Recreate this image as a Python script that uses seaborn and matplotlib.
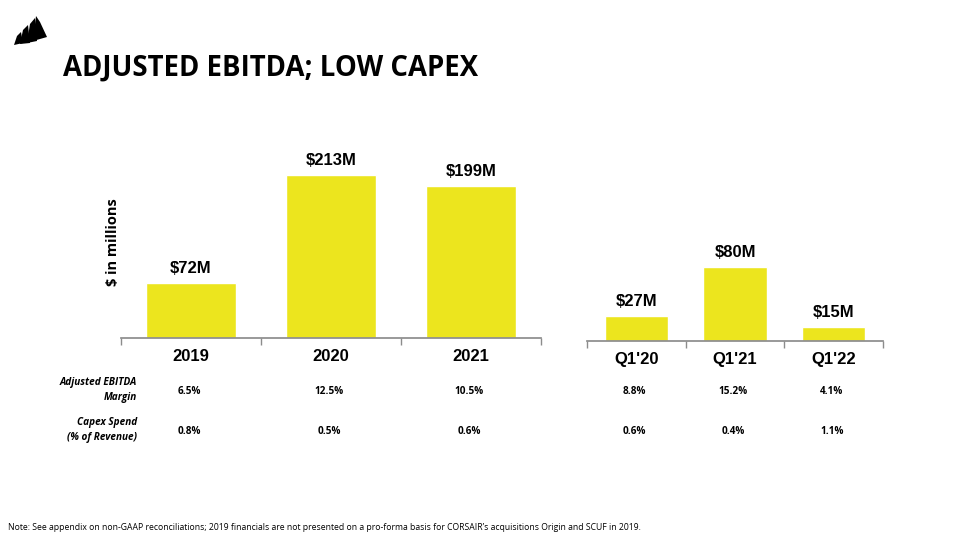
import matplotlib
matplotlib.use('Agg')
import matplotlib.pyplot as plt
import seaborn as sns
from matplotlib.patches import Polygon

# data
years = ['2019', '2020', '2021']
year_ebitda = [72, 213, 199]
quarters = ["Q1'20", "Q1'21", "Q1'22"]
quarter_ebitda = [27, 80, 15]
year_margin = ['6.5%', '12.5%', '10.5%']
quarter_margin = ['8.8%', '15.2%', '4.1%']
year_capex = ['0.8%', '0.5%', '0.6%']
quarter_capex = ['0.6%', '0.4%', '1.1%']

sns.set_theme(style="white")
plt.rcParams['font.family'] = ['Liberation Sans', 'DejaVu Sans']
plt.rcParams['text.color'] = 'black'
plt.rcParams['xtick.color'] = 'black'
plt.rcParams['axes.labelcolor'] = 'black'

yellow = '#ECE51E'
fig = plt.figure(figsize=(9.6, 5.4), dpi=100)

ax1 = fig.add_axes([0.126, 0.374, 0.4375, 0.354])
ax2 = fig.add_axes([0.6115, 0.3685, 0.3083, 0.358])


def draw(ax, cats, vals, ymax):
    sns.barplot(x=cats, y=vals, color=yellow, width=0.64, saturation=1, ax=ax)
    ax.set_ylim(0, ymax)
    ax.set_xlim(-0.5, len(cats) - 0.5)
    for i, v in enumerate(vals):
        ax.annotate(f'${v}M', (i, v), xytext=(0, 5), textcoords='offset points',
                    ha='center', va='bottom', fontsize=12, fontweight='bold')
    for s in ['top', 'right', 'left']:
        ax.spines[s].set_visible(False)
    ax.spines['bottom'].set_color('#8c8c8c')
    ax.set_yticks([])
    ax.set_xticks(range(len(cats)))
    ax.set_xticklabels(cats, fontsize=12, fontweight='bold')
    ax.tick_params(axis='x', which='major', length=0, pad=8)
    ax.set_xticks([i - 0.5 for i in range(len(cats) + 1)], minor=True)
    ax.tick_params(axis='x', which='minor', length=5, color='#8c8c8c', bottom=True)
    ax.set_xlabel('')


draw(ax1, years, year_ebitda, 250)
draw(ax2, quarters, quarter_ebitda, 210)

ax1.set_ylabel('$ in millions', fontsize=10.5, fontweight='bold', family='Open Sans', labelpad=1)

# table rows below the chart
lab_font = dict(family='Open Sans', fontsize=7.2, fontweight='bold')
fig.text(137 / 960, 1 - 390 / 540, 'Adjusted EBITDA\nMargin', ha='right', va='center',
         style='italic', linespacing=1.45, **lab_font)
fig.text(137 / 960, 1 - 430 / 540, 'Capex Spend\n(% of Revenue)', ha='right', va='center',
         style='italic', linespacing=1.45, **lab_font)

for ax, margins, capex in [(ax1, year_margin, year_capex), (ax2, quarter_margin, quarter_capex)]:
    for i in range(len(margins)):
        xf = fig.transFigure.inverted().transform(ax.transData.transform((i, 0)))[0] - 2 / 960
        fig.text(xf, 1 - 391 / 540, margins[i], ha='center', va='center', **lab_font)
        fig.text(xf, 1 - 432 / 540, capex[i], ha='center', va='center', **lab_font)

fig.text(63 / 960, 1 - 68 / 540, 'ADJUSTED EBITDA; LOW CAPEX', fontsize=19.8, fontweight='bold',
         family='Open Sans', va='center', ha='left')

fig.text(8 / 960, 1 - 528 / 540,
         "Note: See appendix on non-GAAP reconciliations; 2019 financials are not presented on a "
         "pro-forma basis for CORSAIR\u2019s acquisitions Origin and SCUF in 2019.",
         fontsize=6.2, family='Open Sans', va='center', ha='left')

# small sail logo
sails = [
    [(14, 45), (17, 36), (21, 32), (23, 43)],
    [(20, 44), (23, 30), (28, 25), (30, 43)],
    [(27, 43), (30, 24), (35, 18), (37, 41)],
    [(33, 41), (36, 16), (40, 22), (47, 37)],
]
for pts in sails:
    fig.patches.append(Polygon([(x / 960, 1 - y / 540) for x, y in pts], closed=True,
                               transform=fig.transFigure, facecolor='black', edgecolor='none'))

fig.savefig('out.png', dpi=100)
